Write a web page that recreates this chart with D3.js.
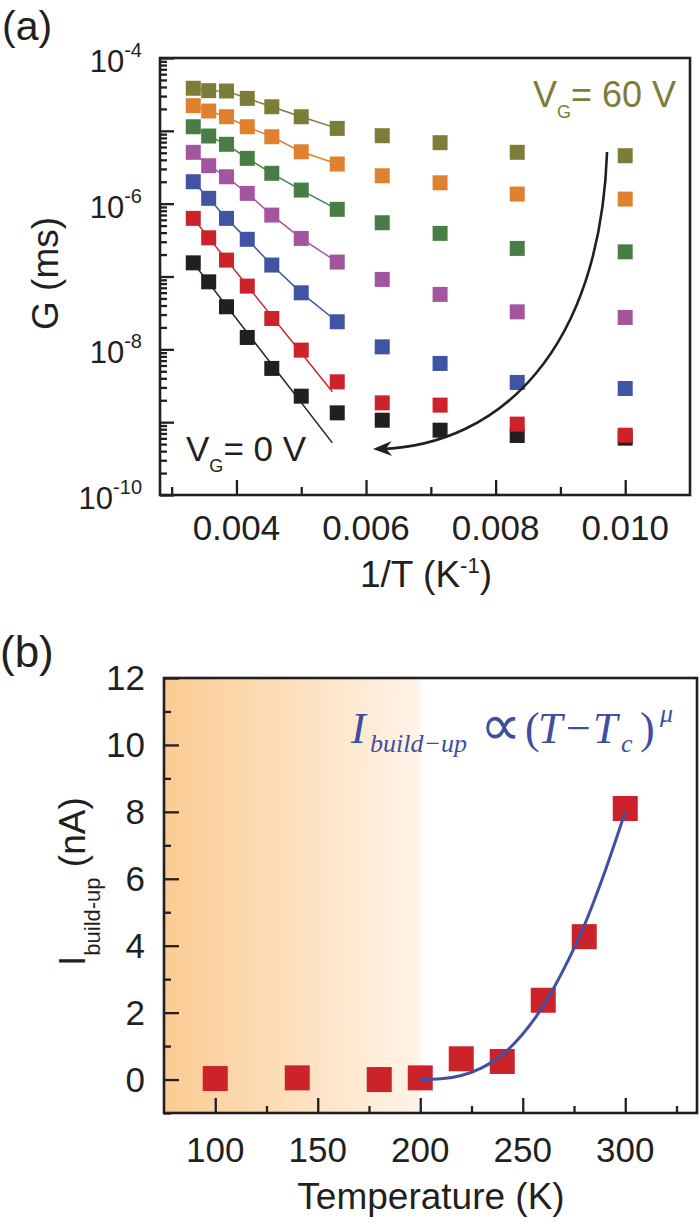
<!DOCTYPE html>
<html><head><meta charset="utf-8">
<script src="https://cdn.jsdelivr.net/npm/d3@7"></script>
<style>
body{margin:0;background:#fff}
svg{display:block}
text{font-family:"Liberation Sans",Arial,Helvetica,sans-serif;fill:#231f20}
</style>
</head><body>
<svg id="c" width="700" height="1223"></svg>
<script>
// ---------- Panel (a) data ----------
const tempsA = [300,280,260,240,220,200,180,160,140,120,100];      // K, x = 1/T
const gate = ["0 V","10 V","20 V","30 V","40 V","50 V","60 V"];
const gBlack  = [1.54e-7,8.45e-8,3.84e-8,1.455e-8,5.47e-9,2.275e-9,1.343e-9,1.064e-9,7.76e-10,6.56e-10,6.03e-10];
const gRed    = [6.28e-7,3.40e-7,1.679e-7,7.38e-8,2.65e-8,9.75e-9,3.58e-9,1.841e-9,1.714e-9,9.40e-10,6.62e-10];
const gBlue   = [2.0e-6,1.183e-6,6.28e-7,3.24e-7,1.436e-7,5.97e-8,2.39e-8,1.081e-8,6.40e-9,3.51e-9,2.90e-9];
const gPurple = [5.07e-6,3.32e-6,2.34e-6,1.384e-6,6.97e-7,3.33e-7,1.578e-7,9.12e-8,5.68e-8,3.27e-8,2.74e-8];
const gGreen  = [1.138e-5,8.49e-6,6.53e-6,4.19e-6,2.61e-6,1.538e-6,8.36e-7,5.47e-7,3.91e-7,2.43e-7,2.18e-7];
const gOrange = [2.213e-5,1.871e-5,1.563e-5,1.138e-5,8.30e-6,5.16e-6,3.50e-6,2.415e-6,1.936e-6,1.355e-6,1.156e-6];
const gOlive  = [3.84e-5,3.56e-5,3.52e-5,2.79e-5,2.14e-5,1.56e-5,1.08e-5,8.57e-6,6.87e-6,5.07e-6,4.55e-6];
const colorsA = ["#231f20","#cc2229","#4054a4","#a3569f","#487e45","#e0812f","#7d7d3a"];
// straight Arrhenius fits for 0 V and 10 V: end point (1/T, G)
const fitEndInvT = 0.00548;
const fitEndBlack = 5.2e-10, fitEndRed = 2.61e-9;
const fitPoints = 7; // other series: line through the first 7 points
// arrow annotation (1/T, G): start, control1, control2, tip
const arrowA = [[0.00972,5.12e-6],[0.009611,9.8e-9],[0.008068,4.85e-10],[0.006107,4.28e-10]];
const xTicksA = [0.003,0.004,0.005,0.006,0.007,0.008,0.009,0.010];
const xLabelsA = [0.004,0.006,0.008,0.010];
const yLabelExpA = [-10,-8,-6,-4];

// ---------- Panel (b) data ----------
const tempsB = [100,140,180,200,220,240,260,280,300];
const iBuild = [0.03,0.05,0.0,0.05,0.62,0.54,2.37,4.27,8.1];
const fitT = [200,210,220,230,240,250,260,270,280,290,300];
const fitI = [0,0.02,0.12,0.35,0.74,1.36,2.2,3.3,4.6,6.2,8.0];
const xTicksB = [100,125,150,175,200,225,250,275,300,325];
const xLabelsB = [100,150,200,250,300];
const yTicksB = [-1,0,1,2,3,4,5,6,7,8,9,10,11,12];
const yLabelsB = [0,2,4,6,8,10,12];
const shadeRange = [75,200];

const ink = "#231f20";
const svg = d3.select("#c");

// ================= Panel (a) =================
const x1 = d3.scaleLinear().domain([0.00282,0.011]).range([160,690]);
const y1 = d3.scaleLog().domain([1e-10,1e-4]).range([495,58]);
const isDecade = v => Math.abs(Math.log10(v)-Math.round(Math.log10(v)))<1e-6;

const gyA = svg.append("g").attr("transform","translate(160,0)")
  .call(d3.axisLeft(y1).tickValues(y1.ticks()).tickSize(-14).tickFormat(""));
gyA.select(".domain").remove();
gyA.selectAll(".tick line").attr("x2",d=>isDecade(d)?14:7).attr("stroke",ink).attr("stroke-width",2.3);

const gxA = svg.append("g").attr("transform","translate(0,495)")
  .call(d3.axisBottom(x1).tickValues(xTicksA).tickSize(-15).tickFormat(""));
gxA.select(".domain").remove();
gxA.selectAll(".tick line").attr("y2",d=>xLabelsA.some(v=>Math.abs(v-d)<1e-9)?-15:-8).attr("stroke",ink).attr("stroke-width",2.3);

// y labels
yLabelExpA.forEach(e=>{
  const t = svg.append("text").attr("x",142).attr("y",y1(Math.pow(10,e))+14)
    .attr("text-anchor","end").style("font-size","31px");
  t.append("tspan").text("10");
  t.append("tspan").attr("dy",-15).style("font-size","20px").text(String(e));
});
// x labels
xLabelsA.forEach(v=>{
  svg.append("text").attr("x",x1(v)).attr("y",540).attr("text-anchor","middle")
    .style("font-size","35px").text(d3.format(".3f")(v));
});

const seriesA = [gBlack,gRed,gBlue,gPurple,gGreen,gOrange,gOlive];
const lineA = d3.line().x(d=>x1(d[0])).y(d=>y1(d[1]));
seriesA.forEach((vals,si)=>{
  let fit;
  if(si===0) fit=[[1/tempsA[0],vals[0]],[fitEndInvT,fitEndBlack]];
  else if(si===1) fit=[[1/tempsA[0],vals[0]],[fitEndInvT,fitEndRed]];
  else fit = tempsA.slice(0,fitPoints).map((T,i)=>[1/T,vals[i]]);
  svg.append("path").attr("d",lineA(fit)).attr("fill","none")
    .attr("stroke",colorsA[si]).attr("stroke-width",1.5);
});
const ms = 15;
seriesA.forEach((vals,si)=>{
  svg.append("g").selectAll("rect").data(vals).join("rect")
    .attr("x",(d,i)=>x1(1/tempsA[i])-ms/2).attr("y",d=>y1(d)-ms/2)
    .attr("width",ms).attr("height",ms).attr("fill",colorsA[si]);
});

// arrow
const ap = arrowA.map(d=>[x1(d[0]),y1(d[1])]);
const pth = d3.path();
pth.moveTo(ap[0][0],ap[0][1]);
pth.bezierCurveTo(ap[1][0],ap[1][1],ap[2][0],ap[2][1],ap[3][0]+8,ap[3][1]);
svg.append("path").attr("d",pth.toString()).attr("fill","none").attr("stroke",ink).attr("stroke-width",2.6);
{
  const tip = ap[3];
  const dx = ap[3][0]-ap[2][0], dy = ap[3][1]-ap[2][1];
  const L = Math.hypot(dx,dy), ux=dx/L, uy=dy/L, nx=-uy, ny=ux;
  const len=19, hw=7.5, notch=13;
  const pts = [
    [tip[0],tip[1]],
    [tip[0]-ux*len+nx*hw, tip[1]-uy*len+ny*hw],
    [tip[0]-ux*notch, tip[1]-uy*notch],
    [tip[0]-ux*len-nx*hw, tip[1]-uy*len-ny*hw]
  ];
  svg.append("polygon").attr("points",pts.map(p=>p.join(",")).join(" ")).attr("fill",ink);
}

// frame
svg.append("rect").attr("x",160).attr("y",58).attr("width",530).attr("height",437)
  .attr("fill","none").attr("stroke",ink).attr("stroke-width",2.6);

// annotations
{
  const t = svg.append("text").attr("x",676).attr("y",107).attr("text-anchor","end")
    .style("font-size","36px").style("fill","#7d7d3a");
  t.append("tspan").text("V");
  t.append("tspan").attr("dy",11).style("font-size","18px").style("fill","#7d7d3a").text("G");
  t.append("tspan").attr("dy",-11).style("fill","#7d7d3a").text("= 60 V");
  const b = svg.append("text").attr("x",186).attr("y",461).style("font-size","35px");
  b.append("tspan").text("V");
  b.append("tspan").attr("dy",11).style("font-size","18px").text("G");
  b.append("tspan").attr("dy",-11).text("= 0 V");
}
svg.append("text").attr("x",2).attr("y",40).style("font-size","41px").text("(a)");
svg.append("text").attr("transform","translate(58,330) rotate(-90)").style("font-size","37px").text("G (ms)");
{
  const t = svg.append("text").attr("x",426).attr("y",587).attr("text-anchor","middle").style("font-size","37px");
  t.append("tspan").text("1/T (K");
  t.append("tspan").attr("dy",-14).style("font-size","22px").text("-1");
  t.append("tspan").attr("dy",14).text(")");
}

// ================= Panel (b) =================
const x2 = d3.scaleLinear().domain([75,335]).range([164,697]);
const y2 = d3.scaleLinear().domain([-1,12]).range([1113,678]);

const defs = svg.append("defs");
const grad = defs.append("linearGradient").attr("id","shade").attr("x1","0").attr("x2","1").attr("y1","0").attr("y2","0");
grad.append("stop").attr("offset","0").attr("stop-color","#fbcb92");
grad.append("stop").attr("offset","1").attr("stop-color","#fff4e8");
svg.append("rect").attr("x",x2(shadeRange[0])).attr("y",y2(12))
  .attr("width",x2(shadeRange[1])-x2(shadeRange[0])).attr("height",y2(-1)-y2(12))
  .attr("fill","url(#shade)");

const gyB = svg.append("g").attr("transform","translate(164,0)")
  .call(d3.axisLeft(y2).tickValues(yTicksB).tickSize(-15).tickFormat(""));
gyB.select(".domain").remove();
gyB.selectAll(".tick line").attr("x2",d=>d%2===0?15:7).attr("stroke",ink).attr("stroke-width",2.3);
const gxB = svg.append("g").attr("transform","translate(0,1113)")
  .call(d3.axisBottom(x2).tickValues(xTicksB).tickSize(-15).tickFormat(""));
gxB.select(".domain").remove();
gxB.selectAll(".tick line").attr("y2",d=>d%50===0?-15:-7).attr("stroke",ink).attr("stroke-width",2.3);

yLabelsB.forEach(v=>{
  svg.append("text").attr("x",145).attr("y",y2(v)+12).attr("text-anchor","end")
    .style("font-size","35px").text(v);
});
xLabelsB.forEach(v=>{
  svg.append("text").attr("x",x2(v)).attr("y",1162).attr("text-anchor","middle")
    .style("font-size","35px").text(v);
});

const msB = 25;
svg.append("g").selectAll("rect").data(iBuild).join("rect")
  .attr("x",(d,i)=>x2(tempsB[i])-msB/2).attr("y",d=>y2(d)-msB/2)
  .attr("width",msB).attr("height",msB).attr("fill","#cc2229");

svg.append("path").datum(fitT.map((T,i)=>[T,fitI[i]]))
  .attr("d",d3.line().x(d=>x2(d[0])).y(d=>y2(d[1])).curve(d3.curveMonotoneX))
  .attr("fill","none").attr("stroke","#3f51a3").attr("stroke-width",3);

svg.append("rect").attr("x",164).attr("y",678).attr("width",533).attr("height",435)
  .attr("fill","none").attr("stroke",ink).attr("stroke-width",2.6);

svg.append("text").attr("x",0).attr("y",667).style("font-size","44px").text("(b)");
svg.append("text").attr("x",431).attr("y",1209).attr("text-anchor","middle").style("font-size","37px").text("Temperature (K)");
{
  const t = svg.append("text").attr("transform","translate(85,966) rotate(-90)").style("font-size","37px");
  t.append("tspan").text("I");
  t.append("tspan").attr("dy",15).style("font-size","22px").text("build-up");
  t.append("tspan").attr("dy",-15).text(" (nA)");
}
// equation (one text element, pieces placed as in the figure)
{
  const blue = "#3e4fa0";
  const eq = svg.append("text")
    .style("font-family","'Liberation Serif','Times New Roman',serif").style("fill",blue);
  const put = (txt,x,y,size,italic,fam)=>eq.append("tspan").attr("x",x).attr("y",y)
    .style("font-size",size+"px").style("font-style",italic?"italic":"normal")
    .style("font-family",fam||"'Liberation Serif','Times New Roman',serif").style("fill",blue).text(txt);
  put("I",351,743,44,true);
  put("build\u2212up",370,752,26,true);
  put("\u221D",480,745,58,false,"'DejaVu Sans',sans-serif");
  put("(",525,743,44,false);
  put("T",538,743,44,true);
  put("\u2212",566,743,44,false);
  put("T",593,743,44,true);
  put("c",621,752,26,true);
  put(")",640,743,44,false);
  put("\u03BC",660,722,26,true);
}
</script>
</body></html>
